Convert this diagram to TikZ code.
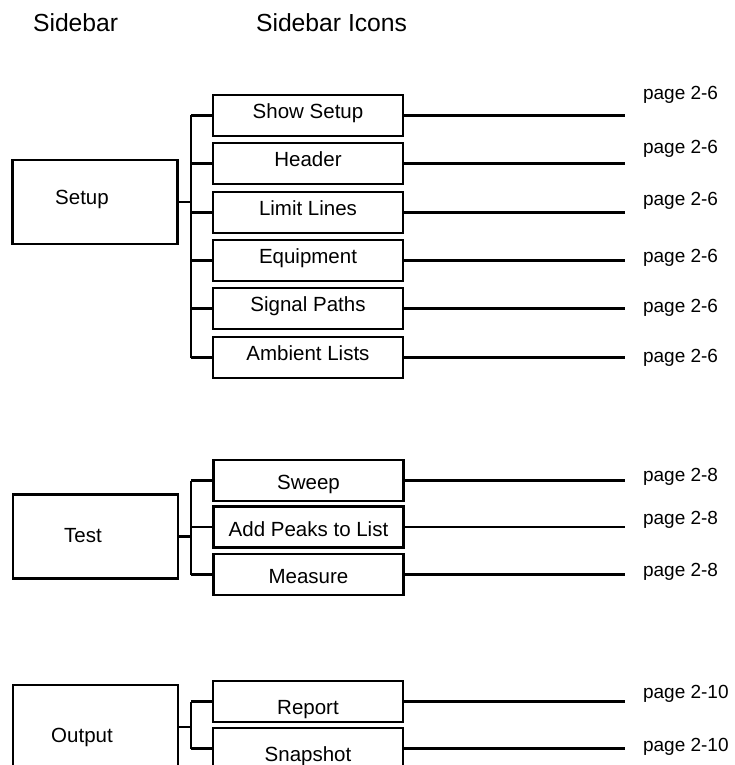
\documentclass[tikz,border=0pt]{standalone}
\usepackage{fontspec}
\setmainfont{Liberation Sans}
\begin{document}
\begin{tikzpicture}[x=1pt,y=-1pt,
  line width=2.1pt,
  parentbox/.style={draw, minimum width=165pt, minimum height=84pt, inner sep=0pt},
  ptext/.style={font=\fontsize{20.5}{24}\selectfont, inner sep=0pt, text height=14.7pt, text depth=0pt},
  itembox/.style={draw, minimum width=190pt, minimum height=41pt, inner sep=0pt, font=\fontsize{20.5}{24}\selectfont},
  setupitem/.style={itembox, text height=15pt, text depth=8.4pt},
  testitem/.style={itembox, text height=18pt, text depth=0pt},
  outitem/.style={itembox, text height=25.6pt, text depth=0pt},
  pagelbl/.style={anchor=west, inner sep=0pt, font=\fontsize{19}{22}\selectfont, text height=13.6pt, text depth=0pt},
  headlbl/.style={anchor=base west, inner sep=0pt, font=\fontsize{24.7}{28}\selectfont}
]
\useasboundingbox (0,0) rectangle (734,765);

% headers
\node[headlbl] (h1) at (32,32) {Sidebar};
\node[headlbl] (h2) at (255,32) {Sidebar Icons};

% bracket x and line end x
\coordinate (br) at (191,0);
\coordinate (le) at (625,0);

% ---------- Setup group ----------
\node[parentbox] (setup) at (95,202) {};
\node[ptext] (setupt) at (82,197) {Setup};
\node[setupitem] (s1) at (308,115.5) {Show Setup};
\node[setupitem] (s2) at (308,163.5) {Header};
\node[setupitem] (s3) at (308,212.5) {Limit Lines};
\node[setupitem] (s4) at (308,260.5) {Equipment};
\node[setupitem] (s5) at (308,308.5) {Signal Paths};
\node[setupitem] (s6) at (308,357.5) {Ambient Lists};
\draw (setup.east) -- (setup.east -| br);
\draw (s1.west -| br) -- (s6.west -| br);
\foreach \n in {s1,s2,s3,s4,s5,s6}{
  \draw (\n.west) -- (\n.west -| br);
  \draw (\n.east) -- (\n.east -| le);
}
\node[pagelbl] (p1) at (642,93) {page 2-6};
\node[pagelbl] (p2) at (642,147) {page 2-6};
\node[pagelbl] (p3) at (642,199) {page 2-6};
\node[pagelbl] (p4) at (642,256) {page 2-6};
\node[pagelbl] (p5) at (642,306) {page 2-6};
\node[pagelbl] (p6) at (642,356) {page 2-6};

% ---------- Test group ----------
\node[parentbox] (test) at (95.5,536.5) {};
\node[ptext] (testt) at (83,535) {Test};
\node[testitem] (t1) at (308.5,480.5) {Sweep};
\node[testitem] (t2) at (308.5,527) {Add Peaks to List};
\node[testitem] (t3) at (308.5,574.5) {Measure};
\draw (test.east) -- (test.east -| br);
\draw (t1.west -| br) -- (t3.west -| br);
\foreach \n in {t1,t2,t3}{
  \draw (\n.west) -- (\n.west -| br);
  \draw (\n.east) -- (\n.east -| le);
}
\node[pagelbl] (q1) at (642,475) {page 2-8};
\node[pagelbl] (q2) at (642,518) {page 2-8};
\node[pagelbl] (q3) at (642,570) {page 2-8};

% ---------- Output group ----------
\node[parentbox] (output) at (95.5,727) {};
\node[ptext] (outputt) at (82,735) {Output};
\node[outitem] (o1) at (308,701.5) {Report};
\node[outitem] (o2) at (308,748.5) {Snapshot};
\draw (output.east) -- (output.east -| br);
\draw (o1.west -| br) -- (o2.west -| br);
\foreach \n in {o1,o2}{
  \draw (\n.west) -- (\n.west -| br);
  \draw (\n.east) -- (\n.east -| le);
}
\node[pagelbl] (r1) at (642,692) {page 2-10};
\node[pagelbl] (r2) at (642,745) {page 2-10};
\end{tikzpicture}
\end{document}
